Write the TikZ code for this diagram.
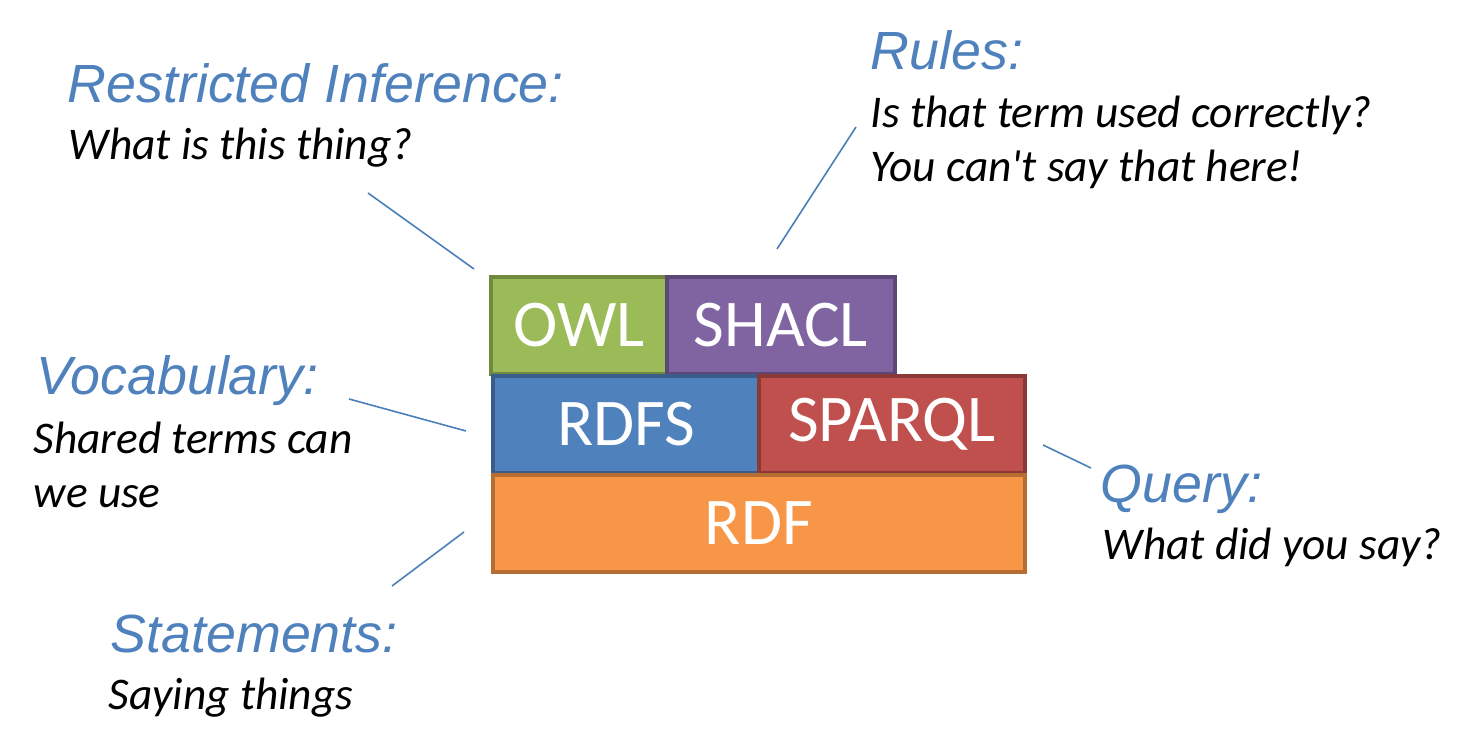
\documentclass[tikz,border=0pt]{standalone}
\usepackage{fontspec}
\setmainfont{Carlito}
\newfontfamily\headfont{Liberation Sans}
\usetikzlibrary{positioning}
\definecolor{owlGreen}{HTML}{9BBB59}
\definecolor{owlGreenDark}{HTML}{71893F}
\definecolor{shaclPurple}{HTML}{8064A2}
\definecolor{shaclPurpleDark}{HTML}{5C4776}
\definecolor{rdfsBlue}{HTML}{4F81BD}
\definecolor{rdfsBlueDark}{HTML}{385D8A}
\definecolor{sparqlRed}{HTML}{C0504D}
\definecolor{sparqlRedDark}{HTML}{8C3836}
\definecolor{rdfOrange}{HTML}{F79646}
\definecolor{rdfOrangeDark}{HTML}{B66D31}
\definecolor{headBlue}{HTML}{4F81BD}
\definecolor{linkBlue}{HTML}{4A7EBB}

\begin{document}
\begin{tikzpicture}[
  layer/.style={draw,line width=0.9pt,minimum height=0.97cm,inner sep=0pt,text=white,font=\fontsize{19}{22}\selectfont},
  head/.style={anchor=base west,inner sep=0pt,text=headBlue,font=\headfont\itshape\fontsize{15.3}{18}\selectfont},
  note/.style={anchor=base west,inner sep=0pt,align=left,font=\itshape\fontsize{12.9}{15.4}\selectfont},
  link/.style={linkBlue,line width=0.45pt}]

\useasboundingbox (0,0) rectangle (14.71,-7.51);

% the stack
\node[layer,fill=owlGreen,draw=owlGreenDark,minimum width=1.76cm] (owl) at (5.79,-3.255) {OWL};
\node[layer,fill=shaclPurple,draw=shaclPurpleDark,minimum width=2.28cm] (shacl) at (7.81,-3.255) {SHACL};
\node[layer,fill=rdfsBlue,draw=rdfsBlueDark,minimum width=2.66cm] (rdfs) at (6.26,-4.245) {RDFS};
\node[layer,fill=sparqlRed,draw=sparqlRedDark,minimum width=2.66cm] (sparql) at (8.92,-4.245) {SPARQL};
\node[layer,fill=rdfOrange,draw=rdfOrangeDark,minimum width=5.32cm] (rdf) at (7.59,-5.235) {RDF};

% captions (multi-line notes sit on their last baseline)
\node[head] (infHead) at (0.67,-1.03) {Restricted Inference:};
\node[note] (infNote) at (0.68,-1.60) {What is this thing?};
\node[head] (rulesHead) at (8.70,-0.70) {Rules:};
\node[note] (rulesNote) at (8.70,-1.82) {Is that term used correctly?\\You can\textquotesingle t say that here!};
\node[head] (vocHead) at (0.36,-3.95) {Vocabulary:};
\node[note] (vocNote) at (0.33,-5.08) {Shared terms can\\we use};
\node[head] (stmtHead) at (1.10,-6.53) {Statements:};
\node[note] (stmtNote) at (1.08,-7.10) {Saying things};
\node[head] (qryHead) at (11.00,-5.03) {Query:};
\node[note] (qryNote) at (11.02,-5.60) {What did you say?};

% leader lines
\coordinate (infA) at (3.68,-1.93);
\coordinate (infB) at (4.74,-2.69);
\coordinate (rulesA) at (8.56,-1.27);
\coordinate (rulesB) at (7.77,-2.49);
\coordinate (vocA) at (3.49,-3.99);
\coordinate (vocB) at (4.66,-4.31);
\coordinate (qryA) at (10.43,-4.45);
\coordinate (qryB) at (10.91,-4.68);
\coordinate (stmtA) at (4.64,-5.32);
\coordinate (stmtB) at (3.92,-5.86);

\draw[link] (infA) -- (infB);
\draw[link] (rulesA) -- (rulesB);
\draw[link] (vocA) -- (vocB);
\draw[link] (qryA) -- (qryB);
\draw[link] (stmtA) -- (stmtB);
\end{tikzpicture}
\end{document}
